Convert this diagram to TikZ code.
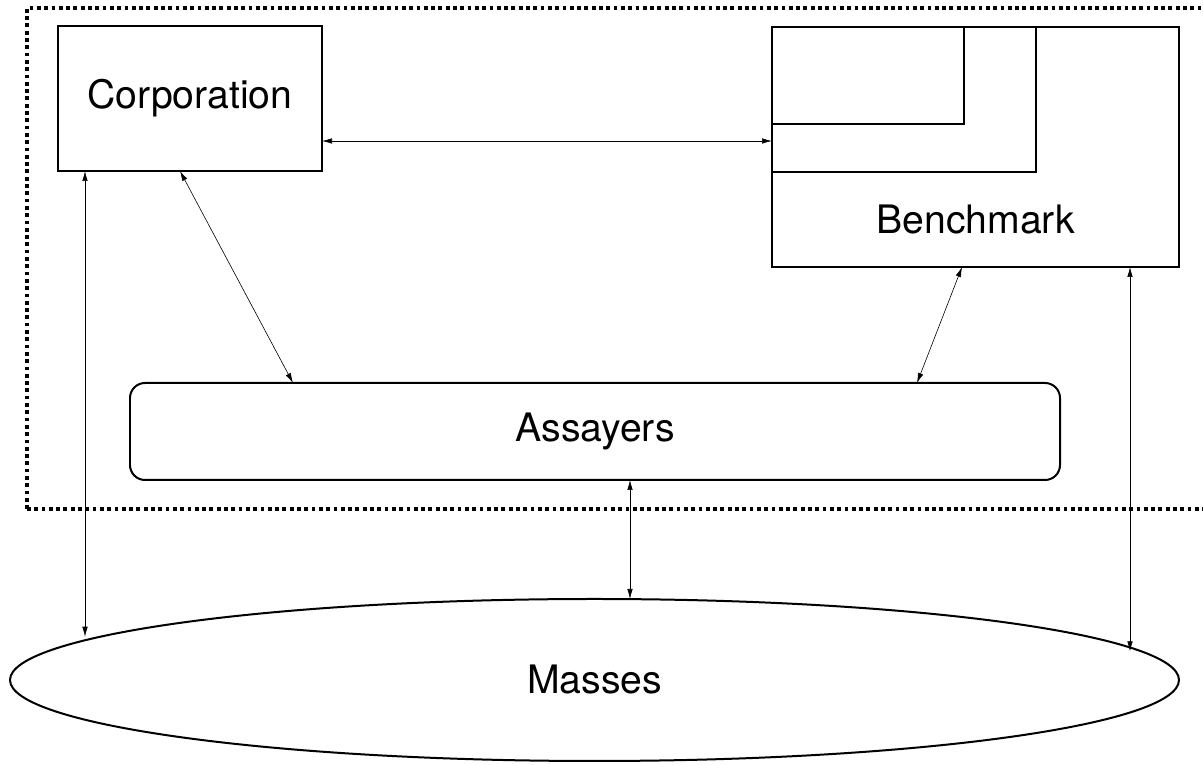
\documentclass[tikz,border=0pt]{standalone}
\usepackage{fontspec}
\setmainfont{TeX Gyre Heros}
\usetikzlibrary{arrows.meta,shapes.geometric}
\begin{document}
\begin{tikzpicture}[
    box/.style={draw, line width=0.04cm, inner sep=0pt, outer sep=0pt},
    link/.style={{Latex[length=0.2cm,width=0.11cm]}-{Latex[length=0.2cm,width=0.11cm]}, line width=0.012cm},
    ]
                \useasboundingbox (0.000000,0.000000) rectangle (24.060000,15.300000);
                {\fontsize{22.3}{26}\selectfont

                % Marking frame by dots
                \draw [line width=0.075cm, dash pattern=on 0.075cm off 0.071cm] (0.540000,5.120000) -- (0.540000,15.140000) -- (24.400000,15.140000);%
                \draw [line width=0.075cm, dash pattern=on 0.075cm off 0.071cm] (0.540000,5.120000) -- (24.400000,5.120000);%

                % Marking box Corporation
                \node [box, minimum width=5.280000cm, minimum height=2.900000cm] (corp) at (3.800000,13.330000) { Corporation };%

                % Marking box Benchmark with its inner boxes
                \node [box, minimum width=8.140000cm, minimum height=4.800000cm] (bench) at (19.510000,12.360000) {};%
                \draw [line width=0.04cm] (15.440000,14.760000) rectangle (20.720000,11.860000);%
                \draw [line width=0.04cm] (15.440000,14.760000) rectangle (19.280000,12.820000);%
                \node (benchtext) at (19.510000,10.910000) { Benchmark };%

                % Marking box Assayers
                \node [box, rounded corners=0.300000cm, minimum width=18.600000cm, minimum height=1.940000cm] (assay) at (11.900000,6.670000) { Assayers };%

                % Marking ellipse Masses
                \node [box, ellipse, minimum width=23.380000cm, minimum height=3.240000cm] (masses) at (11.890000,1.700000) { Masses };%

                % Drawing line Corporation Benchmark
                \draw [link] ([yshift=-0.850000cm]corp.east) -- ([yshift=-0.850000cm]corp.east -| bench.west);%

                % Drawing line Corporation Assayers
                \draw [link] ([xshift=-0.200000cm]corp.south) -- ([xshift=-6.040000cm]assay.north);%

                % Drawing line Benchmark Assayers
                \draw [link] ([xshift=-0.270000cm]bench.south) -- ([xshift=6.440000cm]assay.north);%

                % Drawing line Assayers Masses
                \draw [link] ([xshift=0.700000cm]assay.south) -- ([xshift=0.700000cm]assay.south |- masses.north);%

                % Drawing line Corporation Masses
                \draw [link] ([xshift=-2.100000cm]corp.south) -- ([xshift=-2.100000cm]corp.south |- masses.175.5);%

                % Drawing line Benchmark Masses
                \draw [link] ([xshift=3.090000cm]bench.south) -- ([xshift=3.090000cm]bench.south |- masses.3.5);%
                }
\end{tikzpicture}
\end{document}
